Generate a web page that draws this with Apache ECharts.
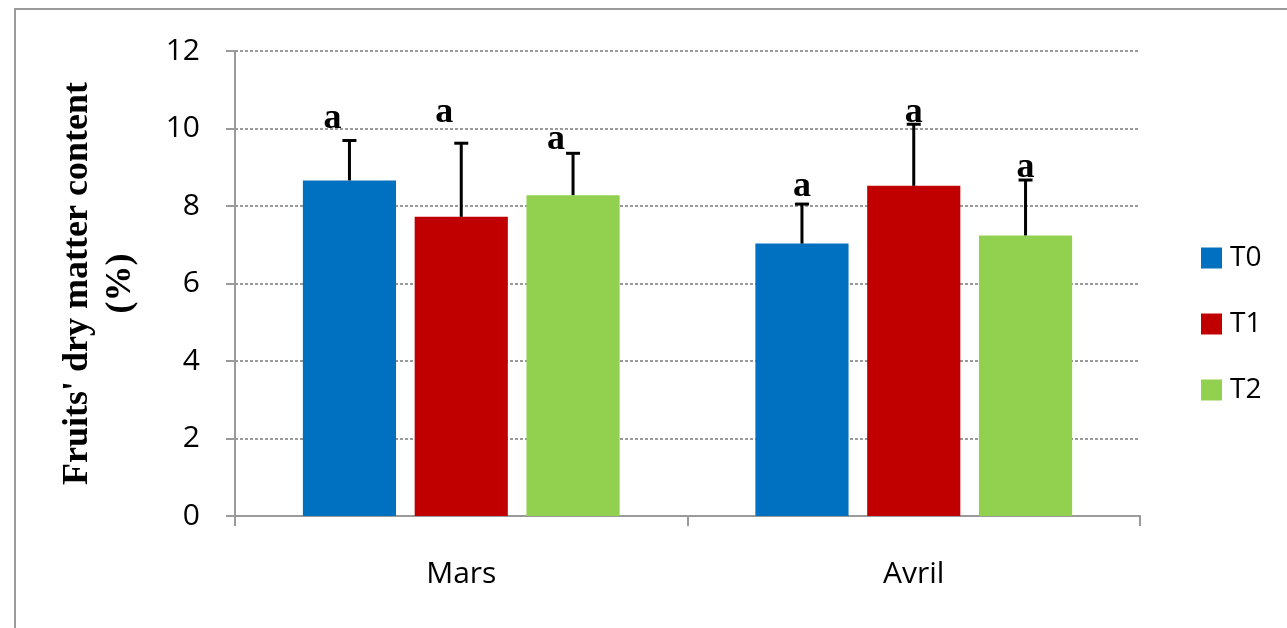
<!DOCTYPE html>
<html>
<head>
<meta charset="utf-8">
<script src="https://cdn.jsdelivr.net/npm/echarts@6/dist/echarts.min.js"></script>
<style>
html, body { margin: 0; padding: 0; background: #fff; }
</style>
</head>
<body>
<div id="main" style="width: 1287px;height:628px;"></div>
<script>
// données
var months = ['Mars', 'Avril'];
var treatments = ['T0', 'T1', 'T2'];
var colors = ['#0070C0', '#C00000', '#92D050'];
var t0 = [8.66, 7.03];
var t1 = [7.72, 8.52];
var t2 = [8.28, 7.24];
// écart type (haut de la barre d'erreur - moyenne)
var t0Err = [1.03, 1.02];
var t1Err = [1.90, 1.59];
var t2Err = [1.08, 1.43];
// lettres de significativité et hauteur (en %) où elles sont écrites
var letters = [['a', 'a', 'a'], ['a', 'a', 'a']];
var letterY = [[10.25, 10.42, 9.7], [8.5, 10.4, 8.98]];
var yTicks = [0, 2, 4, 6, 8, 10, 12];

var means = [t0, t1, t2];
var errs = [t0Err, t1Err, t2Err];

var errData = [];
for (var s = 0; s < 3; s++) {
    for (var c = 0; c < months.length; c++) {
        errData.push([c, s, means[s][c], means[s][c] + errs[s][c], letterY[c][s], letters[c][s]]);
    }
}

var myChart = echarts.init(document.getElementById('main'));

function renderErr(params, api) {
    var c = api.value(0), s = api.value(1);
    var catW = api.size([1, 0])[0];
    var bw = catW * 0.7 / 3.4, gap = bw * 0.2;
    var x0 = api.coord([c, 0])[0] - (3 * bw + 2 * gap) / 2;
    var x = x0 + s * (bw + gap) + bw / 2;
    var pMean = api.coord([c, api.value(2)]);
    var pTop = api.coord([c, api.value(3)]);
    var pLet = api.coord([c, api.value(4)]);
    var dx = c === 0 ? -17 : 0;
    return {
        type: 'group',
        children: [
            { type: 'line', shape: { x1: x, y1: pMean[1], x2: x, y2: pTop[1] }, style: { stroke: '#000', lineWidth: 3 } },
            { type: 'line', shape: { x1: x - 7, y1: pTop[1], x2: x + 7, y2: pTop[1] }, style: { stroke: '#000', lineWidth: 3 } },
            { type: 'text', x: x + dx, y: pLet[1], style: {
                text: api.value(5), fill: '#000', font: 'bold 36px "Liberation Serif"',
                textAlign: 'center', textVerticalAlign: 'middle' } }
        ]
    };
}

var option = {
    animation: false,
    graphic: [{
        type: 'rect', shape: { x: 15, y: 9, width: 1400, height: 800 },
        style: { fill: 'none', stroke: '#9a9a9a', lineWidth: 2 }, silent: true, z: -1
    }],
    grid: { left: 235, right: 147, top: 51, bottom: 112 },
    legend: {
        data: treatments, orient: 'vertical', left: 1196, top: 239,
        itemWidth: 21, itemHeight: 21, itemGap: 38, icon: 'rect',
        textStyle: { fontSize: 28, color: '#000', fontFamily: 'Open Sans', padding: [0, 0, 0, 3] }
    },
    xAxis: {
        type: 'category', data: months,
        axisLine: { lineStyle: { color: '#9a9a9a', width: 2 } },
        axisTick: { show: true, length: 10, lineStyle: { color: '#9a9a9a', width: 2 } },
        axisLabel: { fontSize: 30, color: '#000', fontFamily: 'Open Sans', margin: 43 }
    },
    yAxis: {
        type: 'value', min: 0, max: 12, interval: 2,
        name: "Fruits' dry matter content\n(%)",
        nameLocation: 'middle', nameGap: 93, nameRotate: 90,
        nameTextStyle: { fontSize: 36, fontWeight: 'bold', fontFamily: 'Liberation Serif', color: '#000', lineHeight: 43 },
        axisLine: { show: true, lineStyle: { color: '#9a9a9a', width: 2 } },
        axisTick: { show: true, length: 9, lineStyle: { color: '#9a9a9a', width: 2 } },
        axisLabel: { fontSize: 30, color: '#000', fontFamily: 'Open Sans', margin: 35,
            formatter: function (v) { return yTicks.indexOf(v) >= 0 ? v : ''; } },
        splitLine: { lineStyle: { color: '#9a9a9a', type: [3, 2], width: 2 } }
    },
    series: [
        { name: 'T0', type: 'bar', data: t0, itemStyle: { color: colors[0] }, barGap: '20%', barCategoryGap: '30%' },
        { name: 'T1', type: 'bar', data: t1, itemStyle: { color: colors[1] } },
        { name: 'T2', type: 'bar', data: t2, itemStyle: { color: colors[2] } },
        { name: 'err', type: 'custom', renderItem: renderErr, data: errData, z: 10,
          encode: { x: 0, y: 3 } }
    ]
};
myChart.setOption(option);
</script>
</body>
</html>
